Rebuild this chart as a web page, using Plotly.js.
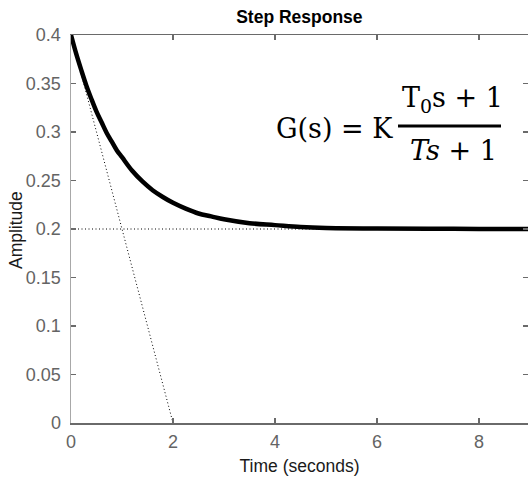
<!DOCTYPE html>
<html>
<head>
<meta charset="utf-8">
<script src="https://cdn.plot.ly/plotly-3.0.1.min.js"></script>
<style>html,body{margin:0;padding:0;background:#fff;}#chart{width:528px;height:479px;}</style>
</head>
<body>
<div id="chart"></div>
<script>
// Step response values
var timeS = [0, 0.1, 0.2, 0.3, 0.4, 0.5, 0.6, 0.7, 0.8, 0.9, 1.0, 1.2, 1.4, 1.6, 1.8, 2.0, 2.25, 2.5, 2.75, 3, 3.5, 4, 4.5, 5, 6, 7, 8, 9];
var amplitude = [0.400, 0.381, 0.364, 0.348, 0.334, 0.321, 0.310, 0.299, 0.290, 0.281, 0.274, 0.260, 0.249, 0.240, 0.233, 0.227, 0.221, 0.216, 0.213, 0.210, 0.206, 0.204, 0.202, 0.201, 0.2005, 0.2002, 0.2001, 0.200];
// Tangent at t = 0 (dotted)
var tangentT = [-0.2, 2.2];
var tangentY = [0.44, -0.04];
// Steady-state level (dotted)
var steadyT = [0, 9];
var steadyY = [0.2, 0.2];
// Ticks
var xTicks = [0, 2, 4, 6, 8];
var yTicks = [0, 0.05, 0.1, 0.15, 0.2, 0.25, 0.3, 0.35, 0.4];
var yTickText = ['0', '0.05', '0.1', '0.15', '0.2', '0.25', '0.3', '0.35', '0.4'];

var traces = [
  {x: tangentT, y: tangentY, mode: 'lines', line: {color: '#000', width: 1, dash: '1px,2.5px'}, hoverinfo: 'skip'},
  {x: steadyT, y: steadyY, mode: 'lines', line: {color: '#000', width: 1, dash: '1px,2.5px'}, hoverinfo: 'skip'},
  {x: timeS, y: amplitude, mode: 'lines', line: {color: '#000', width: 4.5, shape: 'spline', smoothing: 1}}
];

var tickFont = {family: 'Liberation Sans, Arial, sans-serif', size: 18, color: '#646464'};
var layout = {
  width: 528, height: 479,
  margin: {l: 71, r: 0, t: 35, b: 56},
  paper_bgcolor: '#fff', plot_bgcolor: '#fff',
  showlegend: false,
  title: {text: '<b>Step Response</b>', x: 0.567, xanchor: 'center', y: 0.965, yanchor: 'middle',
          font: {family: 'Liberation Sans, Arial, sans-serif', size: 17.5, color: '#000'}},
  xaxis: {range: [0, 8.96], tickvals: xTicks, ticktext: xTicks.map(String),
          showgrid: false, zeroline: false, showline: true, mirror: 'ticks',
          linecolor: '#6a6a6a', linewidth: 1.5, ticks: 'inside', ticklen: 5, tickcolor: '#6a6a6a', tickwidth: 1.5,
          tickfont: tickFont, ticklabelstandoff: 2,
          title: {text: 'Time (seconds)', standoff: 8, font: {family: 'Liberation Sans, Arial, sans-serif', size: 17.5, color: '#1a1a1a'}}},
  yaxis: {range: [0, 0.4], tickvals: yTicks, ticktext: yTickText,
          showgrid: false, zeroline: false, showline: true, mirror: 'ticks',
          linecolor: '#a8a8a8', linewidth: 1.5, ticks: 'inside', ticklen: 5, tickcolor: '#6a6a6a', tickwidth: 1.5,
          tickfont: tickFont, ticklabelstandoff: 5},
  annotations: [
    {xref: 'paper', yref: 'paper', x: (16 - 71) / 457, y: 1 - (230 - 35) / 388, xanchor: 'center', yanchor: 'middle',
     textangle: -90, text: 'Amplitude', showarrow: false,
     font: {family: 'Liberation Sans, Arial, sans-serif', size: 17.5, color: '#1a1a1a'}},
    {xref: 'paper', yref: 'paper', x: (395 - 71) / 457, y: 1 - (128 - 35) / 388, xanchor: 'right', yanchor: 'middle',
     text: 'G(s) = K', showarrow: false, font: {family: 'DejaVu Serif, serif', size: 27, color: '#000'}},
    {xref: 'paper', yref: 'paper', x: (452 - 71) / 457, y: 1 - (100 - 35) / 388, xanchor: 'center', yanchor: 'middle',
     text: 'T<sub>0</sub>s + 1', showarrow: false, font: {family: 'DejaVu Serif, serif', size: 27, color: '#000'}},
    {xref: 'paper', yref: 'paper', x: (453 - 71) / 457, y: 1 - (150 - 35) / 388, xanchor: 'center', yanchor: 'middle',
     text: '<i>Ts</i> + 1', showarrow: false, font: {family: 'DejaVu Serif, serif', size: 27, color: '#000'}}
  ],
  shapes: [
    {type: 'line', xref: 'paper', yref: 'paper', x0: (398 - 71) / 457, x1: (501 - 71) / 457,
     y0: 1 - (126 - 35) / 388, y1: 1 - (126 - 35) / 388, line: {color: '#000', width: 3}}
  ]
};
Plotly.newPlot('chart', traces, layout, {displayModeBar: false, staticPlot: true});
</script>
</body>
</html>
